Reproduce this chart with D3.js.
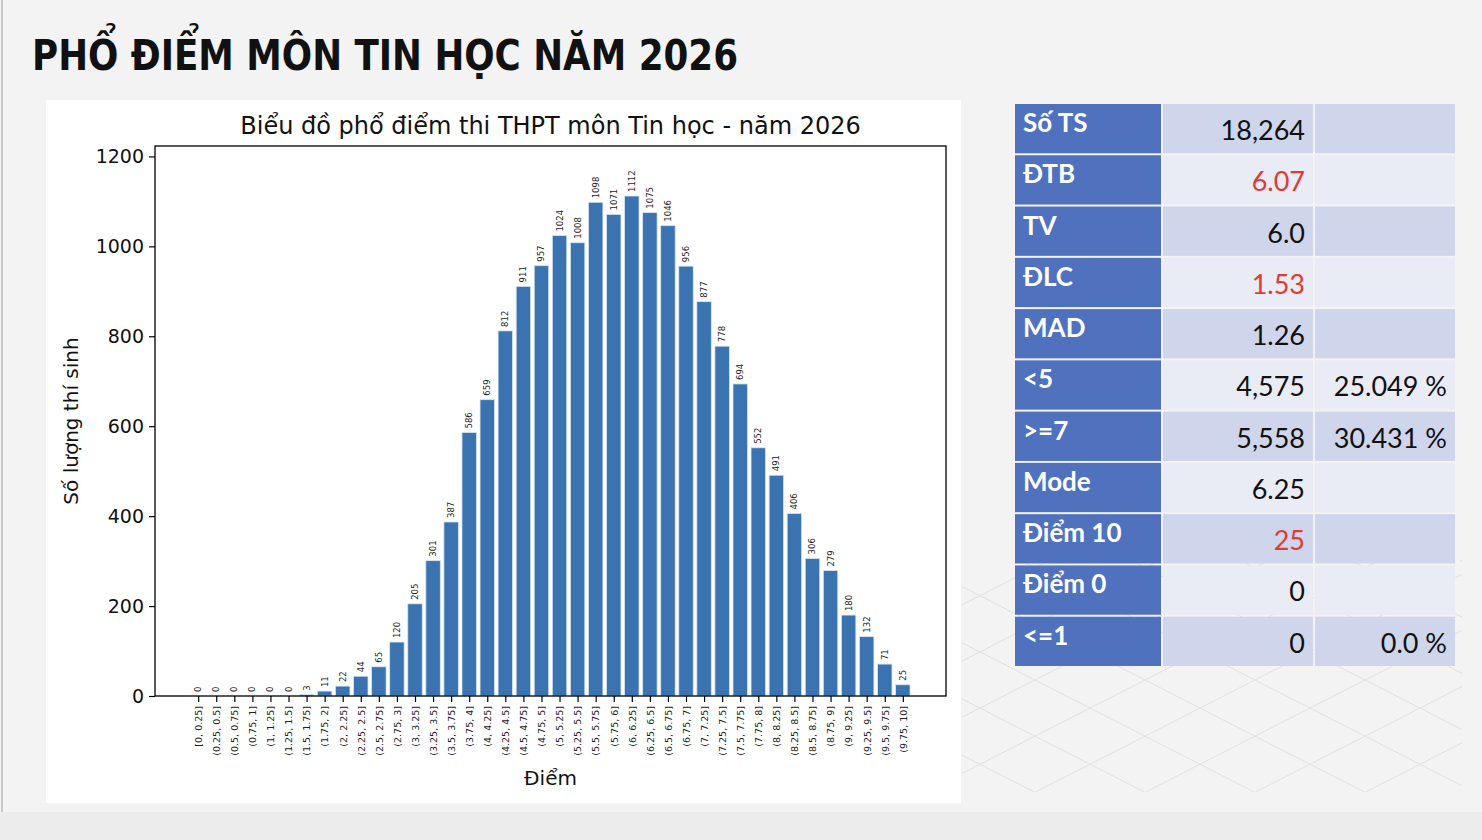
<!DOCTYPE html>
<html>
<head>
<meta charset="utf-8">
<script src="https://cdn.jsdelivr.net/npm/d3@7"></script>
<style>
  body { margin: 0; background: #f3f3f3; }
  svg { display: block; }
</style>
</head>
<body>
<svg id="page" width="1482" height="840"></svg>
<script>
// score bins and number of candidates per bin
var bins = ["[0, 0.25]", "(0.25, 0.5]", "(0.5, 0.75]", "(0.75, 1]", "(1, 1.25]", "(1.25, 1.5]",
    "(1.5, 1.75]", "(1.75, 2]", "(2, 2.25]", "(2.25, 2.5]", "(2.5, 2.75]", "(2.75, 3]",
    "(3, 3.25]", "(3.25, 3.5]", "(3.5, 3.75]", "(3.75, 4]", "(4, 4.25]", "(4.25, 4.5]",
    "(4.5, 4.75]", "(4.75, 5]", "(5, 5.25]", "(5.25, 5.5]", "(5.5, 5.75]", "(5.75, 6]",
    "(6, 6.25]", "(6.25, 6.5]", "(6.5, 6.75]", "(6.75, 7]", "(7, 7.25]", "(7.25, 7.5]",
    "(7.5, 7.75]", "(7.75, 8]", "(8, 8.25]", "(8.25, 8.5]", "(8.5, 8.75]", "(8.75, 9]",
    "(9, 9.25]", "(9.25, 9.5]", "(9.5, 9.75]", "(9.75, 10]"]
var counts = [0, 0, 0, 0, 0, 0, 3, 11, 22, 44, 65, 120, 205, 301, 387, 586, 659, 812, 911, 957,
    1024, 1008, 1098, 1071, 1112, 1075, 1046, 956, 877, 778, 694, 552, 491, 406, 306, 279,
    180, 132, 71, 25]
var yTicks = [0, 200, 400, 600, 800, 1000, 1200]

// summary table
var statNames = ["Số TS", "ĐTB", "TV", "ĐLC", "MAD", "<5", ">=7", "Mode", "Điểm 10", "Điểm 0", "<=1"]
var statValues = ["18,264", "6.07", "6.0", "1.53", "1.26", "4,575", "5,558", "6.25", "25", "0", "0"]
var statPercents = ["", "", "", "", "", "25.049 %", "30.431 %", "", "", "", "0.0 %"]
var statHighlight = [false, true, false, true, false, false, false, false, true, false, false]

var page = d3.select("#page")

// background bits
page.append("rect").attr("x", 0).attr("y", 812).attr("width", 1482).attr("height", 28).attr("fill", "#ececec")
page.append("line").attr("x1", 2).attr("x2", 2).attr("y1", 0).attr("y2", 812)
    .attr("stroke", "#c8c8c8").attr("stroke-width", 2)

// faint diamond pattern behind the table
var deco = page.append("g").attr("stroke", "#e1e1e1").attr("stroke-width", 1)
page.append("clipPath").attr("id", "decoClip")
    .append("rect").attr("x", 962).attr("y", 560).attr("width", 500).attr("height", 232)
deco.attr("clip-path", "url(#decoClip)")
d3.range(-6, 8).forEach(function (k) {
    var x0 = 800 + k * 110
    deco.append("line").attr("x1", x0).attr("y1", 560).attr("x2", x0 + 470).attr("y2", 800)
    deco.append("line").attr("x1", x0 + 470).attr("y1", 560).attr("x2", x0).attr("y2", 800)
})

// page title
page.append("text")
    .attr("x", 32).attr("y", 70)
    .attr("font-family", "'Liberation Sans Narrow', 'DejaVu Sans Condensed', sans-serif")
    .attr("font-weight", "bold")
    .attr("font-size", "42px")
    .attr("textLength", 706)
    .attr("lengthAdjust", "spacingAndGlyphs")
    .attr("fill", "#111")
    .text("PHỔ ĐIỂM MÔN TIN HỌC NĂM 2026")

// chart panel
page.append("rect").attr("x", 46).attr("y", 100).attr("width", 915).attr("height", 703).attr("fill", "#fff")

var margin = { left: 155, top: 146 }
var chartWidth = 791, chartHeight = 550
var chart = page.append("g").attr("transform", "translate(" + margin.left + "," + margin.top + ")")
    .attr("font-family", "'DejaVu Sans', sans-serif")

var x = d3.scaleLinear()
    .domain([-0.4 - 0.05 * 39.8, 39.4 + 0.05 * 39.8]) // matplotlib style margins
    .range([0, chartWidth])

var y = d3.scaleLinear()
    .domain([0, d3.max(counts) * 1.1])
    .range([chartHeight, 0])

chart.selectAll(".bar")
    .data(counts)
    .enter()
    .append("rect")
    .attr("class", "bar")
    .attr("x", function (d, i) { return x(i - 0.4) })
    .attr("width", function (d, i) { return x(i + 0.4) - x(i - 0.4) })
    .attr("y", function (d) { return y(d) })
    .attr("height", function (d) { return chartHeight - y(d) })
    .attr("fill", "#3a73b0")
    .attr("stroke", "#d6e4f2")
    .attr("stroke-width", 0.8)

// values on top of bars
chart.selectAll(".val")
    .data(counts)
    .enter()
    .append("text")
    .attr("class", "val")
    .attr("transform", function (d, i) { return "translate(" + (x(i) + 3) + "," + (y(d) - 4) + ") rotate(-90)" })
    .attr("font-size", "8.5px")
    .attr("fill", "#222")
    .text(function (d) { return d })

// axes
var xAxis = d3.axisBottom(x)
    .tickValues(d3.range(counts.length))
    .tickFormat(function (i) { return bins[i] })
    .tickSize(6)
var gx = chart.append("g").attr("transform", "translate(0," + chartHeight + ")").call(xAxis)
gx.select(".domain").remove()
gx.selectAll("line").attr("stroke", "#000").attr("stroke-width", 1.2)
gx.selectAll("text")
    .attr("font-size", "9.5px")
    .attr("font-family", "'DejaVu Sans', sans-serif")
    .attr("fill", "#222")
    .attr("text-anchor", "end")
    .attr("transform", "rotate(-90)")
    .attr("x", -10).attr("y", 0).attr("dy", "0.35em")

var yAxis = d3.axisLeft(y).tickValues(yTicks).tickFormat(d3.format("d")).tickSize(6).tickPadding(5)
var gy = chart.append("g").call(yAxis)
gy.select(".domain").remove()
gy.selectAll("line").attr("stroke", "#000").attr("stroke-width", 1.2)
gy.selectAll("text").attr("font-size", "19px").attr("font-family", "'DejaVu Sans', sans-serif").attr("fill", "#111")

// frame
chart.append("rect").attr("width", chartWidth).attr("height", chartHeight)
    .attr("fill", "none").attr("stroke", "#000").attr("stroke-width", 1.3)

chart.append("text")
    .attr("x", chartWidth / 2).attr("y", -12)
    .attr("text-anchor", "middle").attr("font-size", "24px").attr("fill", "#111")
    .text("Biểu đồ phổ điểm thi THPT môn Tin học - năm 2026")

chart.append("text")
    .attr("x", chartWidth / 2).attr("y", chartHeight + 89)
    .attr("text-anchor", "middle").attr("font-size", "20px").attr("fill", "#111")
    .text("Điểm")

chart.append("text")
    .attr("transform", "translate(-77," + (chartHeight / 2) + ") rotate(-90)")
    .attr("text-anchor", "middle").attr("font-size", "20px").attr("fill", "#111")
    .text("Số lượng thí sinh")

// stats table
var table = page.append("g").attr("transform", "translate(1015,104)")
    .attr("font-family", "Lato, 'Open Sans', sans-serif")
var rowY = d3.scaleBand().domain(d3.range(statNames.length)).range([0, 564])
var colX = [0, 148, 300], colW = [146, 150, 140]

statNames.forEach(function (name, i) {
    var row = table.append("g").attr("transform", "translate(0," + rowY(i) + ")")
    var h = rowY.bandwidth() - 2
    var cellFill = i % 2 == 0 ? "#cfd5ea" : "#e9ebf5"
    row.append("rect").attr("x", colX[0]).attr("width", colW[0]).attr("height", h).attr("fill", "#4f71be")
    row.append("rect").attr("x", colX[1]).attr("width", colW[1]).attr("height", h).attr("fill", cellFill)
    row.append("rect").attr("x", colX[2]).attr("width", colW[2]).attr("height", h).attr("fill", cellFill)
    row.append("text")
        .attr("x", 8).attr("y", 28)
        .attr("font-size", "26px").attr("font-weight", "bold").attr("fill", "#fff")
        .text(name)
    row.append("text")
        .attr("x", colX[1] + 142).attr("y", 36)
        .attr("text-anchor", "end")
        .attr("font-size", "27px")
        .attr("fill", statHighlight[i] ? "#e03a36" : "#111")
        .text(statValues[i])
    row.append("text")
        .attr("x", colX[2] + 132).attr("y", 36)
        .attr("text-anchor", "end")
        .attr("font-size", "27px")
        .attr("fill", "#111")
        .text(statPercents[i])
})
</script>
</body>
</html>
